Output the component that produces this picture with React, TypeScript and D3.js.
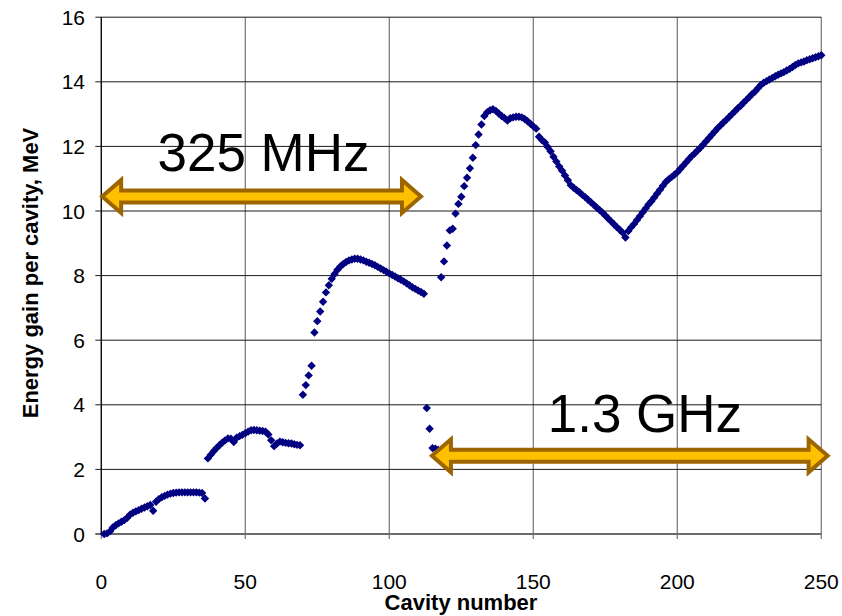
import React from "react";
import * as d3 from "d3";

// Energy gain per cavity (MeV), one value per cavity.
const seg1Start = 1;
const seg1 = [0, 0.02, 0.08, 0.2, 0.27, 0.33, 0.38, 0.43, 0.5, 0.6, 0.66, 0.7, 0.74, 0.78, 0.82, 0.86, 0.9, 0.72, 1.0, 1.08,
  1.14, 1.18, 1.22, 1.25, 1.27, 1.28, 1.29, 1.29, 1.29, 1.29, 1.29, 1.29, 1.29, 1.28, 1.27, 1.1];
const seg2Start = 37;
const seg2 = [2.34, 2.45, 2.56, 2.66, 2.75, 2.83, 2.9, 2.96, 2.95, 2.85, 2.98, 3.03, 3.07, 3.12, 3.17, 3.21, 3.22, 3.21, 3.2, 3.19,
  3.17, 3.08, 2.9, 2.72, 2.8, 2.86, 2.84, 2.82, 2.81, 2.8, 2.78, 2.76, 2.75];
const seg3Start = 70;
const seg3 = [4.31, 4.61, 4.91, 5.21, 6.24, 6.59, 6.89, 7.19, 7.48, 7.7, 7.9, 8.05, 8.18, 8.28, 8.36, 8.42, 8.47, 8.5, 8.52, 8.52,
  8.5, 8.47, 8.43, 8.4, 8.36, 8.32, 8.27, 8.22, 8.17, 8.12, 8.07, 8.02, 7.97, 7.92, 7.87, 7.82, 7.76, 7.7, 7.64, 7.59,
  7.54, 7.49, 7.44];
const seg4Start = 113;
const seg4 = [3.9, 3.26, 2.66, 2.64, 2.6];
const seg5Start = 118;
const seg5 = [7.95, 8.44, 8.93, 9.4, 9.45, 9.92, 10.22, 10.44, 10.77, 11.03, 11.32, 11.65, 12.04, 12.37, 12.68, 12.94, 13.06, 13.12, 13.15, 13.1,
  13.02, 12.94, 12.88, 12.8, 12.87, 12.9, 12.92, 12.92, 12.9, 12.85, 12.78, 12.7,
  12.62, 12.55, 12.3, 12.2, 12.12, 11.98, 11.85, 11.68, 11.53, 11.38, 11.25, 11.1, 10.95, 10.8, 10.72, 10.65, 10.58, 10.5, 10.43, 10.35,
  10.27, 10.19, 10.11, 10.03, 9.95, 9.86, 9.77, 9.68, 9.59, 9.5, 9.42, 9.33, 9.18, 9.38, 9.5, 9.6,
  9.72, 9.84, 9.96, 10.08, 10.2, 10.3, 10.42, 10.54, 10.66, 10.78, 10.9, 10.98, 11.05, 11.12, 11.2, 11.3, 11.4, 11.5, 11.6, 11.7,
  11.78, 11.87, 11.96, 12.06, 12.16, 12.26, 12.36, 12.46, 12.56, 12.65, 12.74, 12.82, 12.91, 13.0, 13.09, 13.18, 13.26, 13.35, 13.44, 13.53,
  13.62, 13.7, 13.8, 13.9, 13.97, 14.02, 14.07, 14.12, 14.17, 14.22, 14.26, 14.3, 14.35, 14.4, 14.46, 14.52, 14.57, 14.6, 14.63, 14.67,
  14.7, 14.73, 14.76, 14.79, 14.82];

const segmentStarts = [seg1Start, seg2Start, seg3Start, seg4Start, seg5Start];
const segmentValues = [seg1, seg2, seg3, seg4, seg5];

const xTicks = [0, 50, 100, 150, 200, 250];
const yTicks = [0, 2, 4, 6, 8, 10, 12, 14, 16];

// Band annotations: [from cavity, to cavity, at MeV]
const bandLabels = ["325 MHz", "1.3 GHz"];
const bandFrom = [0.3, 114.8];
const bandTo = [111, 252.2];
const bandAt = [10.45, 2.42];
const labelX = [19.5, 155];
const labelAt = [11.25, 3.15];

export default function App() {
  const x = d3.scaleLinear().domain([0, 250]).range([101.3, 821.3]);
  const y = d3.scaleLinear().domain([0, 16]).range([534, 17.2]);

  const points: { c: number; v: number }[] = [];
  segmentValues.forEach((vals, si) => {
    vals.forEach((v, i) => points.push({ c: segmentStarts[si] + i, v }));
  });

  const diamond = (cx: number, cy: number, r: number) =>
    `M${cx},${cy - r}L${cx + r},${cy}L${cx},${cy + r}L${cx - r},${cy}Z`;

  const arrowPath = (x0: number, x1: number, cy: number) => {
    const sh = 6, hh = 16.5, hl = 19;
    return [
      [x0, cy], [x0 + hl, cy - hh], [x0 + hl, cy - sh], [x1 - hl, cy - sh], [x1 - hl, cy - hh],
      [x1, cy], [x1 - hl, cy + hh], [x1 - hl, cy + sh], [x0 + hl, cy + sh], [x0 + hl, cy + hh],
    ].map((p, i) => `${i ? "L" : "M"}${p[0]},${p[1]}`).join("") + "Z";
  };

  const [x0, x1] = x.range();
  const [yb, yt] = y.range();

  return (
    <svg width={842} height={616} style={{ position: "absolute", left: 0, top: 0, background: "#fff" }}
      fontFamily="'Liberation Sans', Arial, sans-serif">
      {/* vertical gridlines */}
      {xTicks.map((t) => (
        <line key={"vx" + t} x1={x(t)} x2={x(t)} y1={yt} y2={yb + 5} stroke="#7f7f7f" strokeWidth={1.3} />
      ))}
      {/* horizontal gridlines */}
      {yTicks.map((t) => (
        <line key={"hy" + t} x1={x0 - 6} x2={x1} y1={y(t)} y2={y(t)} stroke={t === 0 ? "#6b6b6b" : "#1a1a1a"}
          strokeWidth={t === 0 ? 2 : 1} />
      ))}
      {/* left axis */}
      <line x1={x0} x2={x0} y1={yt} y2={yb} stroke="#000" strokeWidth={1.2} />

      {/* tick labels */}
      {yTicks.map((t) => (
        <text key={"yl" + t} x={85} y={y(t) + 7.5} fontSize={21} textAnchor="end" fill="#000">{t}</text>
      ))}
      {xTicks.map((t) => (
        <text key={"xl" + t} x={x(t)} y={589} fontSize={21} textAnchor="middle" fill="#000">{t}</text>
      ))}

      {/* axis titles */}
      <text x={461} y={610} fontSize={22} fontWeight="bold" textAnchor="middle">Cavity number</text>
      <text transform={`translate(38,${273}) rotate(-90)`} fontSize={22} fontWeight="bold" textAnchor="middle">
        Energy gain per cavity, MeV
      </text>

      {/* data points */}
      {points.map((p, i) => (
        <path key={"p" + i} d={diamond(x(p.c), y(p.v), 4.2)} fill="#000080" />
      ))}

      {/* band arrows */}
      {bandLabels.map((lab, i) => (
        <g key={"b" + i}>
          <path d={arrowPath(x(bandFrom[i]), x(bandTo[i]), y(bandAt[i]))} fill="#FFC000" stroke="#9C6500"
            strokeWidth={4} strokeLinejoin="miter" />
          <text x={x(labelX[i])} y={y(labelAt[i])} fontSize={53} fill="#000">{lab}</text>
        </g>
      ))}
    </svg>
  );
}
